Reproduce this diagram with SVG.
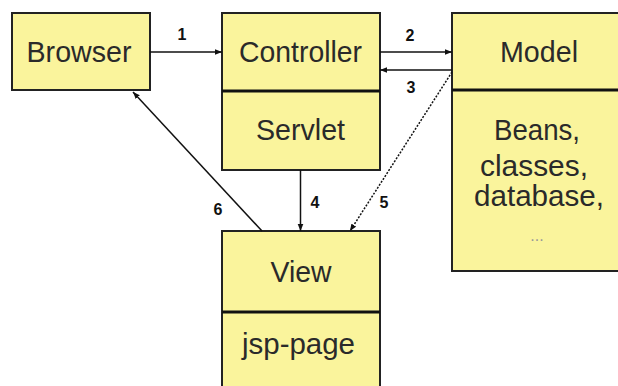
<svg xmlns="http://www.w3.org/2000/svg" width="618" height="386" viewBox="0 0 618 386">
<style>
.box{fill:#faf49c;stroke:#222;stroke-width:2}
.div{stroke:#111;stroke-width:3}
.t{font-family:"Liberation Sans",Arial,sans-serif;font-size:30px;fill:#2a2a2a;text-anchor:middle}
.n{font-family:"Liberation Sans",Arial,sans-serif;font-size:16px;font-weight:bold;fill:#111;text-anchor:middle}
.c{stroke:#111;stroke-width:1.5;fill:none}
</style>
<defs>
<marker id="ah" viewBox="0 0 10 10" refX="10" refY="5" markerWidth="7" markerHeight="7" orient="auto" markerUnits="userSpaceOnUse">
<path d="M0,1 L10,5 L0,9 z" fill="#111"/>
</marker>
</defs>
<rect width="618" height="386" fill="#fff"/>
<g id="browser">
<rect class="box" x="12" y="13" width="138" height="77"/>
<text class="t" x="79" y="62" textLength="105" lengthAdjust="spacingAndGlyphs">Browser</text>
</g>
<g id="controller">
<rect class="box" x="222" y="13" width="158" height="157"/>
<line class="div" x1="222" y1="91" x2="380" y2="91"/>
<text class="t" x="300.5" y="62" textLength="123" lengthAdjust="spacingAndGlyphs">Controller</text>
<text class="t" x="300.5" y="140" textLength="89" lengthAdjust="spacingAndGlyphs">Servlet</text>
</g>
<g id="model">
<rect class="box" x="452" y="13" width="170" height="258"/>
<line class="div" x1="452" y1="90" x2="618" y2="90"/>
<text class="t" x="539" y="62" textLength="78" lengthAdjust="spacingAndGlyphs">Model</text>
<text class="t" x="537" y="140" textLength="86" lengthAdjust="spacingAndGlyphs">Beans,</text>
<text class="t" x="534" y="176" textLength="108" lengthAdjust="spacingAndGlyphs">classes,</text>
<text class="t" x="539" y="206" textLength="130" lengthAdjust="spacingAndGlyphs">database,</text>
<text class="t" x="537" y="241" style="font-size:16px;fill:#999">...</text>
</g>
<g id="view">
<rect class="box" x="222" y="231" width="158" height="160"/>
<line class="div" x1="222" y1="312" x2="380" y2="312"/>
<text class="t" x="301" y="282" textLength="61" lengthAdjust="spacingAndGlyphs">View</text>
<text class="t" x="298.5" y="354" textLength="113" lengthAdjust="spacingAndGlyphs">jsp-page</text>
</g>
<g id="connectors">
<line class="c" x1="150" y1="52" x2="222" y2="52" marker-end="url(#ah)"/>
<line class="c" x1="380" y1="52" x2="452" y2="52" marker-end="url(#ah)"/>
<line class="c" x1="452" y1="70" x2="380" y2="70" marker-end="url(#ah)"/>
<line class="c" x1="300.5" y1="170" x2="300.5" y2="231" marker-end="url(#ah)"/>
<line class="c" x1="452" y1="72" x2="350" y2="231" stroke-dasharray="2,1.5" marker-end="url(#ah)"/>
<line class="c" x1="262" y1="231" x2="133" y2="92" stroke-width="1.2" marker-end="url(#ah)"/>
<text class="n" x="182" y="40">1</text>
<text class="n" x="410" y="41">2</text>
<text class="n" x="411" y="93">3</text>
<text class="n" x="315" y="208">4</text>
<text class="n" x="384" y="208">5</text>
<text class="n" x="218" y="215">6</text>
</g>
</svg>
